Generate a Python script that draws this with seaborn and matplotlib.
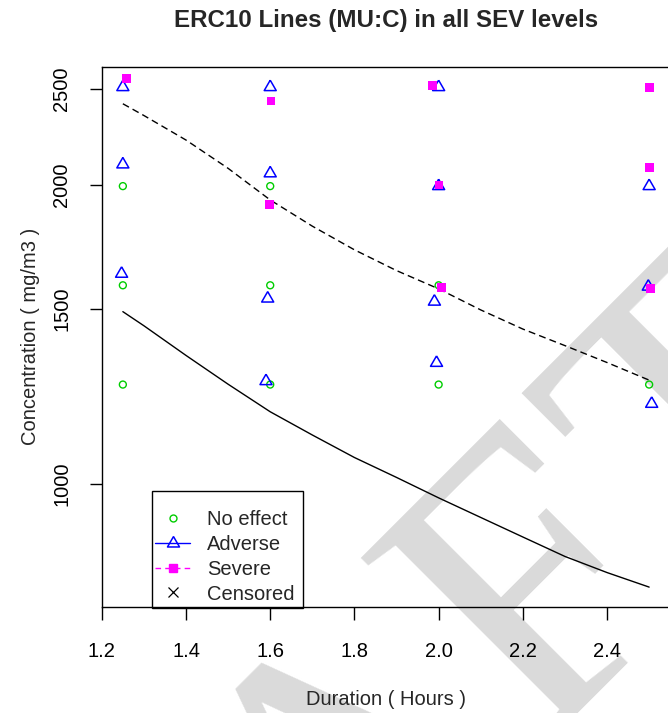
import matplotlib
matplotlib.use("Agg")
import matplotlib.pyplot as plt
import seaborn as sns
import numpy as np
import pandas as pd
from matplotlib.lines import Line2D
from matplotlib.patches import Rectangle
from matplotlib.ticker import NullLocator

# observed responses (duration in hours, concentration in mg/m3)
noeffect_x = [1.25, 1.25, 1.25, 1.6, 1.6, 1.6, 2.0, 2.0, 2.5]
noeffect_y = [1259, 1585, 1995, 1259, 1585, 1995, 1259, 1585, 1259]

adverse_x = [1.25, 1.25, 1.247, 1.6, 1.6, 1.594, 1.59, 2.0, 2.0, 1.99, 1.995, 2.5, 2.498, 2.506]
adverse_y = [2510, 2098, 1628, 2510, 2055, 1537, 1269, 2510, 1995, 1526, 1324, 1995, 1580, 1204]

severe_x = [1.259, 1.602, 1.598, 1.986, 2.001, 2.006, 2.5, 2.5, 2.503]
severe_y = [2559, 2430, 1910, 2520, 2000, 1577, 2510, 2084, 1572]

# ERC10 curves
curve_x = [1.25, 1.3, 1.4, 1.5, 1.6, 1.7, 1.8, 1.9, 2.0, 2.1, 2.2, 2.3, 2.4, 2.5]
adverse_erc = [1491, 1443, 1347, 1260, 1182, 1120, 1063, 1015, 968, 925, 884, 845, 814, 787]
severe_erc = [2415, 2350, 2220, 2079, 1932, 1818, 1721, 1640, 1572, 1497, 1432, 1378, 1325, 1272]

x_ticks = [1.2, 1.4, 1.6, 1.8, 2.0, 2.2, 2.4]
y_ticks = [1000, 1500, 2000, 2500]
legend_labels = ["No effect", "Adverse", "Severe", "Censored"]

sns.set_style("white")
plt.rcParams['font.family'] = ['Liberation Sans', 'DejaVu Sans']

GREEN = "#00cd00"
BLUE = "#0000ff"
MAGENTA = "#ff00ff"
FS = 14.5

# R-style triangle: the point sits at the centroid
tri = [(0, 1.555), (-1.347, -0.778), (1.347, -0.778), (0, 1.555)]

fig = plt.figure(figsize=(6.68, 7.13), dpi=100)
ax = fig.add_axes([101.8 / 668, 1 - 607 / 713, 568.4 / 668, 540.5 / 713])
ax.set_facecolor("none")

# DRAFT watermark (only A, F, T reach the visible area), behind everything
for ch, (fx, fy) in zip("AFT", [(0.5009, -0.3467), (0.8021, -0.0435), (1.0494, 0.1884)]):
    ax.text(fx, fy, ch, transform=fig.transFigure, rotation=45,
            rotation_mode="anchor", ha="left", va="baseline", fontsize=288,
            family=["Liberation Serif", "DejaVu Serif"], color="#dadada",
            zorder=0, clip_on=False)

sns.lineplot(x=curve_x, y=adverse_erc, color="black", lw=1.0, ax=ax, zorder=3)
sns.lineplot(x=curve_x, y=severe_erc, color="black", lw=1.0,
             linestyle=(0, (5, 3)), ax=ax, zorder=3)

sns.scatterplot(x=noeffect_x, y=noeffect_y, marker="o", s=25, color=GREEN,
                facecolor="none", edgecolor=GREEN, linewidth=1.0, ax=ax, zorder=4)
sns.scatterplot(x=adverse_x, y=adverse_y, marker=tri, s=100, color=BLUE,
                facecolor="none", edgecolor=BLUE, linewidth=1.1, ax=ax, zorder=4)
sns.scatterplot(x=severe_x, y=severe_y, marker="s", s=40, color=MAGENTA,
                edgecolor="none", linewidth=0, ax=ax, zorder=5)

ax.set_yscale("log")
ax.set_xlim(1.2, 2.55)
ax.set_ylim(751.5, 2633)
ax.set_xticks(x_ticks, labels=[f"{v:.1f}" for v in x_ticks])
ax.set_yticks(y_ticks, labels=[str(v) for v in y_ticks])
ax.yaxis.set_minor_locator(NullLocator())
ax.tick_params(axis="both", direction="out", length=9, width=1.0,
               color="black", labelsize=FS, labelcolor="black")
ax.tick_params(axis="x", pad=16, bottom=True)
ax.tick_params(axis="y", pad=13, left=True)
plt.setp(ax.get_yticklabels(), rotation=90, va="center")

for side in ["left", "bottom", "top"]:
    ax.spines[side].set_color("black")
    ax.spines[side].set_linewidth(1.0)
ax.spines["right"].set_visible(False)

ax.set_xlabel("Duration ( Hours )", fontsize=FS)
ax.set_ylabel("Concentration ( mg/m3 )", fontsize=FS)
ax.xaxis.set_label_coords(0.5, -0.153)
ax.yaxis.set_label_coords(-0.108, 0.5)

fig.text(386 / 668, 1 - 20 / 713, "ERC10 Lines (MU:C) in all SEV levels",
         ha="center", va="center", fontsize=17.4, fontweight="bold")

# legend with R-like box
handles = [
    Line2D([], [], linestyle="none", marker="o", markersize=5, markerfacecolor="none",
           markeredgecolor=GREEN, markeredgewidth=1.0),
    Line2D([], [], color=BLUE, lw=1.0, marker=tri, markersize=10, markerfacecolor="none",
           markeredgecolor=BLUE, markeredgewidth=1.1),
    Line2D([], [], color=MAGENTA, lw=1.0, linestyle=(0, (4, 3)), marker="s", markersize=6,
           markerfacecolor=MAGENTA, markeredgecolor=MAGENTA),
    Line2D([], [], linestyle="none", marker="x", markersize=7, color="black",
           markeredgewidth=0.9),
]
leg = ax.legend(handles, legend_labels, loc="upper left", frameon=False,
                bbox_to_anchor=((155 - 101.8) / 568.4, (607 - 510) / 540.5),
                borderaxespad=0, borderpad=0, fontsize=FS, handlelength=1.74,
                handletextpad=0.85, labelspacing=0.29)
ax.add_patch(Rectangle(((152 - 101.8) / 568.4, -0.002), (303 - 152) / 568.4,
                       (608 - 491) / 540.5, transform=ax.transAxes, fill=False,
                       edgecolor="black", lw=1.0, clip_on=False, zorder=6))

fig.savefig("out.png", dpi=100)
